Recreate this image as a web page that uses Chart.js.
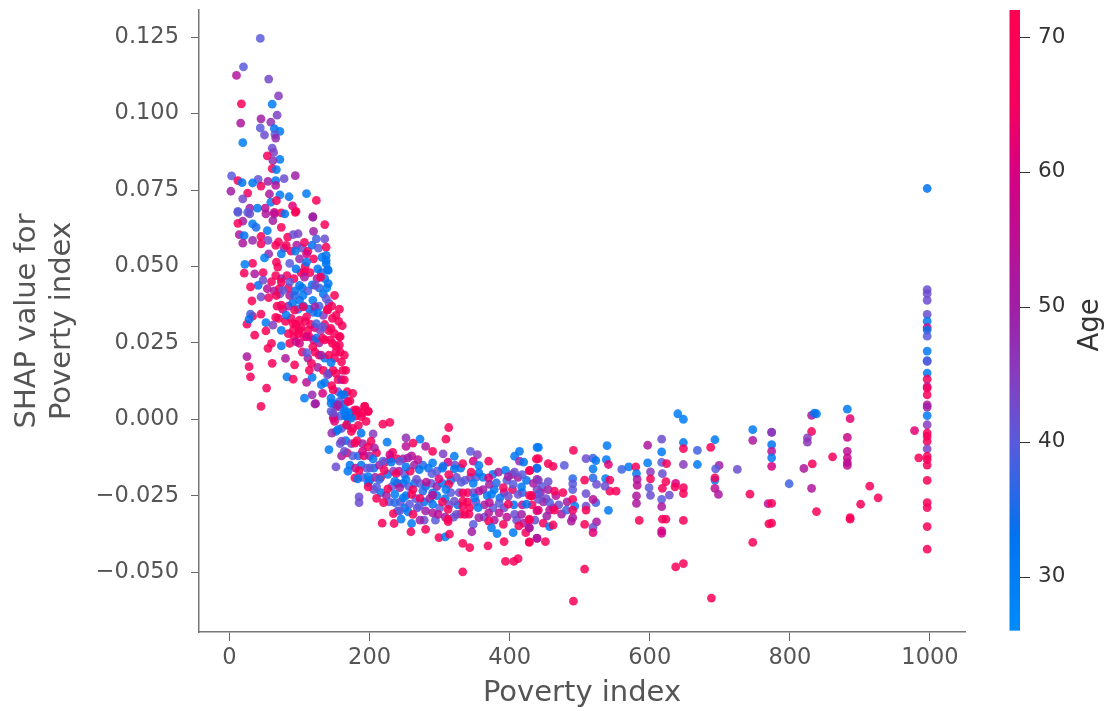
<!DOCTYPE html>
<html>
<head>
<meta charset="utf-8">
<title>SHAP dependence</title>
<script src="https://cdn.jsdelivr.net/npm/chart.js@4"></script>
<style>
html, body { margin: 0; padding: 0; background: #fff; }
#wrap { position: relative; width: 1106px; height: 711px; }
canvas { filter: blur(0.6px); }
</style>
</head>
<body>
<div id="wrap"><canvas id="chart" width="1106" height="711"></canvas></div>
<script>
// values, region by region (poverty index, shap value, age)
// the two crowded bands come first so the dots read one by one lie on top of them
var bandLeftX = [70,78,88,96,104,112,118,127,132,138,140,136,131,125,115,108,102,92,82,74,66,60,64,72,84,94,104,112,118,128,134,139,142,68,76,84,90,98,106,114,120,128,134,140,146,152,70,80,88,95,102,108,116,122,130,136,142,150,156,84,92,98,106,114,120,128,136,144,152,158,104,112,122,128,136,142,150,158,164,126,134,142,148,155,160,166,136,146,155,160,168,150,158,164,172,178,150,158,166,172,180,190];
var bandLeftY = [.058,.056,.055,.057,.056,.055,.057,.056,.053,.052,.049,.046,.048,.046,.048,.05,.048,.046,.047,.046,.047,.045,.042,.041,.043,.042,.043,.042,.044,.043,.041,.043,.038,.037,.036,.037,.038,.036,.037,.036,.035,.037,.034,.036,.037,.034,.033,.032,.033,.031,.03,.032,.031,.03,.029,.031,.029,.028,.032,.028,.027,.028,.027,.027,.026,.025,.026,.026,.024,.027,.022,.02,.022,.021,.02,.021,.02,.022,.021,.017,.016,.015,.016,.013,.013,.016,.012,.011,.009,.008,.009,.005,.004,.005,.006,.003,.001,.001,.001,.002,.001,.002];
var bandLeftAge = [68,50,68,52,42,68,33,40,32,31,32,32,36,50,66,68,68,68,68,50,68,68,52,40,66,33,33,40,31,36,32,30,42,68,62,50,33,30,31,32,36,38,45,68,68,68,68,68,68,68,68,68,66,60,45,68,68,68,68,68,66,68,68,68,55,50,68,68,68,68,68,50,68,66,33,68,68,68,68,50,68,36,68,68,50,68,33,68,40,33,68,33,42,31,68,68,48,38,33,31,68,68];

var bandLowX = [152,160,168,176,184,158,166,174,182,190,198,160,168,176,184,192,200,210,172,180,188,196,206,214,222,230,240,248,260,190,200,208,216,226,234,242,250,258,264,276,284,296,304,312,322,330,206,216,224,232,240,248,256,264,272,280,288,296,304,316,324,336,344,352,362,376,396,404,412,424,434,446,228,244,252,266,278,286,296,308,316,328,340,348,362,368,378,392,404,418,432,444,452,466,470,476,240,250,268,280,300,314,326,340,352,364,376,392,406,418,432,448,462,474,278,294,308,320,330,342,364,378,396,410,420,436,448];
var bandLowY = [-.004,-.003,-.002,-.003,-.002,-.008,-.007,-.008,-.007,-.008,-.009,-.012,-.011,-.012,-.012,-.012,-.012,-.011,-.015,-.016,-.015,-.016,-.016,-.015,-.014,-.013,-.013,-.013,-.012,-.019,-.02,-.019,-.019,-.018,-.017,-.017,-.018,-.017,-.015,-.015,-.016,-.017,-.016,-.014,-.015,-.016,-.023,-.024,-.025,-.022,-.021,-.021,-.022,-.021,-.021,-.022,-.021,-.022,-.021,-.02,-.019,-.02,-.019,-.019,-.019,-.018,-.02,-.018,-.019,-.02,-.021,-.022,-.027,-.027,-.025,-.026,-.027,-.026,-.025,-.026,-.024,-.024,-.024,-.024,-.023,-.025,-.023,-.024,-.023,-.024,-.025,-.024,-.026,-.025,-.028,-.024,-.03,-.029,-.029,-.03,-.029,-.028,-.028,-.027,-.027,-.028,-.029,-.029,-.028,-.028,-.028,-.027,-.029,-.031,-.033,-.033,-.032,-.032,-.031,-.031,-.032,-.033,-.032,-.033,-.034,-.033,-.034];
var bandLowAge = [32,42,33,66,68,40,33,44,68,50,68,52,68,40,36,68,50,68,33,55,32,40,33,52,66,50,68,52,55,40,36,50,68,31,45,52,40,68,50,36,33,40,31,60,42,33,42,33,50,40,55,33,40,31,40,33,40,50,31,33,42,40,45,40,31,33,40,45,52,33,52,40,40,42,33,40,33,50,31,33,40,42,68,42,50,31,33,50,66,36,68,52,42,55,42,68,40,33,42,50,40,42,33,68,42,52,40,42,33,55,68,50,55,52,42,40,50,40,68,68,40,52,55,42,52,42,66];

var topX = [44,20,10,56,70,17,61,68,45,59,16,44,64,72,65,50,66,19,61,63,54,72,62,61,67,3,94,12,18,41,78,55,33,66,45,66,2,26,110,124,19,57,72,85,59,67,90,29,40,51,12,26,95,64,74,119];
var topY = [.1246,.1153,.1125,.1113,.1058,.1032,.1031,.0995,.0983,.0972,.0969,.0953,.0951,.0942,.0932,.093,.092,.0905,.0887,.0873,.0862,.085,.0846,.082,.0817,.0796,.0797,.0781,.0774,.0785,.0787,.0778,.0773,.0781,.0763,.0765,.0746,.074,.0738,.0716,.0721,.0737,.0734,.0728,.071,.0715,.0698,.0691,.0691,.0691,.068,.0677,.068,.0677,.0675,.0663];
var topAge = [40,40,53,43,45,68,30,44,50,47,52,40,32,31,40,42,48,30,42,44,65,31,47,70,31,40,50,68,32,41,42,50,32,33,65,53,50,65,31,68,43,52,31,32,30,68,62,50,32,55,40,40,68,60,68,50];

var upperX = [12,19,12,33,38,29,52,64,79,94,119,136,62,74,54,14,21,19,33,45,55,45,66,83,81,98,91,107,120,124,136,138,94,74,56,50,33,22,21,67,69,86,100,110,120,110,138,138,126,141,95,36,48,41,48,30,54,32,45,56,107,107,86,74,71,100,86,76,67,122,130,141,150,138,105,119,100,93,105,122,126,157,140,81,93,74,147,33,45,30,25,28,52,66,62,36,52,74,91,100,110,100,112,91,124,133,145,161,110,124,86,60,55,74,95,100,119,133,157,147,157,110,131,152,25,80,28,61,93,117,145,160,30,82,91,110,118,114,140,152,162,131,53,148,164,107,118,123,45,133,145,164,176,152,167,193,181,198,145,157,148,169,188];
var upperY = [.0677,.0648,.0641,.0639,.0628,.0672,.0672,.0672,.0672,.0677,.0661,.0637,.065,.0628,.0617,.0604,.0601,.0576,.0585,.0598,.0585,.0574,.0569,.0596,.0569,.0607,.0604,.0579,.0615,.059,.059,.0563,.055,.0541,.0541,.0528,.051,.0507,.0478,.0514,.0498,.051,.0525,.0541,.0525,.0514,.0536,.0509,.0492,.0487,.0492,.0476,.048,.0438,.0455,.0433,.0427,.0387,.04,.0398,.0482,.0465,.0449,.0449,.0427,.0438,.0405,.0422,.0405,.0438,.0465,.0444,.0405,.0395,.0405,.0389,.0389,.0405,.0368,.0368,.0348,.036,.0357,.0341,.0357,.0373,.033,.0337,.0344,.0344,.0311,.0327,.0316,.0333,.0308,.0275,.0289,.0291,.0313,.0324,.0335,.0291,.0291,.0291,.0313,.0302,.0297,.0306,.027,.0265,.0248,.0248,.0232,.024,.0254,.0248,.0237,.0265,.027,.0248,.0243,.0218,.021,.0221,.0205,.0199,.0172,.0183,.0178,.0183,.0185,.0188,.0139,.0139,.0131,.0121,.0137,.016,.0145,.015,.016,.0113,.0102,.0096,.0129,.0069,.008,.0051,.0042,.0085,.0069,.008,.0085,.0042,.0026,.0042,.0031,.0026,.0026,.0058,.0004,.0004,.0009];
var upperAge = [40,50,68,31,35,42,52,55,32,68,50,68,50,68,31,52,32,52,48,68,42,66,68,68,68,44,42,65,50,38,42,68,31,31,48,30,68,30,68,66,68,40,48,60,68,32,33,32,32,32,32,52,68,33,42,68,55,68,42,66,68,52,40,68,68,32,52,40,68,42,68,32,68,40,31,31,33,36,66,50,32,68,68,31,68,68,68,68,68,38,66,33,31,68,45,68,68,31,68,68,68,68,68,68,38,40,68,68,60,34,68,68,68,31,58,60,68,68,68,68,66,40,50,68,52,52,66,68,68,65,32,68,66,31,68,55,31,68,44,68,68,31,66,68,68,30,48,50,68,60,32,33,68,55,31,68,66,68,40,38,62,33,68];

var elbowX = [122,145,155,169,193,183,198,195,164,148,174,150,219,229,313,309,146,155,174,167,188,205,202,225,252,272,262,280,252,290,305,142,164,190,207,179,160,233,229,321,344,354,370,407,414,439,438,414,420,152,169,185,205,219,231,243,255,269,290,305,321,333,348,356,356,179,183,198,201,221,238,252,271,289,313,345,384,394,407,429,439,370,398,418,198,214,236,252,267,281,299,313,331,348,371,381,391,405,417,439,198,210,226,243,262,276,290,309,333,356,374,386,398,412,428,439,210,220,236,236,185,185,248,260,272,290,304,321,333,350,371,385,398,424,439,257,271,290,312,333,343,355,385,407,417,428,234,243,255,262,290,298,312,324,336,356,370,218,235,245,272,260,312,348,370,391,413,428,259,280,346,374,382,405,423,299,308,314,333,343,369,392,428,439,394,406,412,333];
var elbowY = [.005,.0053,.0047,.0058,.0042,.0026,.0026,-.0007,.0026,.002,.0004,-.0007,-.0016,-.001,-.0027,-.0065,-.0045,-.0034,-.004,-.0018,-.0045,-.0048,-.0072,-.0075,-.0061,-.0065,-.0078,-.0089,-.0089,-.0105,-.0113,-.0099,-.0105,-.0105,-.0094,-.0078,-.0072,-.0108,-.0116,-.0121,-.0105,-.0116,-.0137,-.0121,-.0105,-.0092,-.013,-.0137,-.014,-.0156,-.017,-.0168,-.013,-.0137,-.014,-.0137,-.0126,-.0132,-.0143,-.0153,-.0162,-.0145,-.0137,-.0151,-.0175,-.0192,-.0195,-.0188,-.0159,-.0167,-.0178,-.0156,-.0165,-.0178,-.0181,-.0173,-.0173,-.0167,-.0173,-.0167,-.0159,-.0192,-.0188,-.0181,-.0208,-.0197,-.0203,-.0197,-.0197,-.0206,-.0195,-.0213,-.0206,-.021,-.0213,-.0208,-.0224,-.0213,-.0221,-.0197,-.0221,-.0221,-.0228,-.0224,-.023,-.0235,-.0241,-.023,-.0241,-.0235,-.0246,-.0257,-.0252,-.0246,-.0249,-.023,-.0259,-.0273,-.0246,-.0273,-.0254,-.0273,-.0257,-.0246,-.0259,-.0248,-.027,-.0268,-.0268,-.0257,-.0273,-.0275,-.0278,-.0278,-.03,-.0278,-.0284,-.0278,-.0295,-.0284,-.0289,-.0289,-.0306,-.0311,-.0311,-.0327,-.0309,-.03,-.0303,-.0311,-.0306,-.0311,-.0327,-.0311,-.0311,-.0322,-.0306,-.034,-.0341,-.0327,-.033,-.0341,-.0335,-.0344,-.0333,-.0344,-.0349,-.0355,-.0368,-.036,-.0368,-.0355,-.0374,-.0371,-.0371,-.0387,-.0385,-.0376,-.0406,-.042,-.0414,-.04,-.0403,-.039,-.0465,-.0465,-.0456,-.0499];
var elbowAge = [50,32,50,68,68,68,68,68,31,42,32,62,68,68,68,68,48,32,68,68,33,45,68,31,47,31,68,52,55,68,44,30,42,60,52,68,44,68,60,30,40,45,68,32,32,31,68,48,32,42,32,68,31,40,32,40,50,55,31,35,33,68,60,31,32,68,32,31,40,68,68,33,33,40,68,68,50,31,42,68,42,62,50,40,32,36,31,31,42,55,62,68,40,31,50,36,68,40,32,50,68,40,68,50,68,36,33,31,68,53,31,33,42,42,68,44,68,68,31,36,42,42,31,68,66,55,68,42,68,31,55,40,68,32,60,40,40,32,68,68,68,31,55,42,50,68,68,40,32,68,52,55,68,42,68,50,53,68,66,31,50,31,68,40,68,68,68,55,68,66,50,31,30,31,68,68,31,68,68,68,68,68,68,55,68,68,68,68];

var troughX = [640,648,747,774,747,617,597,648,648,693,687,668,617,539,441,491,441,455,462,439,478,509,519,523,538,541,519,560,570,580,581,597,617,624,648,668,699,694,725,601,618,601,582,537,543,519,507,490,490,455,441,428,693,693,623,637,582,618,599,648,693,636,648,698,743,601,628,617,581,581,617,769,543,552,524,536,509,490,455,464,441,441,431,482,490,523,519,457,493,509,481,509,541,441,457,464,490,453,490,428,488,507,524,585,618,623,648,770,457,462,519,519,617,617,428,439,451,428,747,507,637,648,491,688];
var troughY = [.0018,0,-.0034,-.0042,-.0069,-.0065,-.0085,-.0076,-.0096,-.0067,-.0092,-.0102,-.0107,-.0086,-.0092,-.0102,-.0129,-.0145,-.0154,-.0161,-.0151,-.0129,-.0127,-.0135,-.0132,-.0148,-.0162,-.0164,-.0156,-.0156,-.0178,-.0143,-.0141,-.0145,-.0148,-.0148,-.0151,-.0162,-.0164,-.0172,-.0178,-.0195,-.0197,-.0194,-.0199,-.0192,-.0199,-.0194,-.0211,-.0204,-.0199,-.0168,-.0199,-.0192,-.0204,-.021,-.0216,-.0226,-.0224,-.0224,-.0226,-.0221,-.0243,-.0246,-.0245,-.0249,-.0248,-.0262,-.0251,-.0275,-.0286,-.0276,-.0235,-.0235,-.0213,-.0219,-.0243,-.023,-.023,-.0235,-.0246,-.0262,-.0251,-.027,-.0262,-.0273,-.0262,-.0273,-.0284,-.0284,-.0297,-.0297,-.0298,-.0297,-.0297,-.0297,-.0297,-.0317,-.0322,-.033,-.0333,-.0344,-.0336,-.0331,-.0327,-.0327,-.0331,-.0342,-.0351,-.0346,-.0354,-.0371,-.0373,-.0365,-.0355,-.0389,-.04,-.0401,-.0403,-.049,-.0483,-.0472,-.0595,-.0585];
var troughAge = [30,30,31,47,52,42,52,31,68,31,68,38,31,31,31,68,68,68,68,32,40,42,38,32,31,62,31,38,31,68,31,30,40,68,45,31,50,40,42,45,42,68,52,31,68,36,68,36,40,42,45,68,32,68,68,60,55,66,40,66,56,66,68,52,68,42,42,40,52,52,52,55,68,68,42,42,42,40,50,68,40,42,68,52,66,38,55,40,31,42,38,68,31,62,55,68,68,50,52,68,52,68,52,68,66,68,68,68,33,68,42,62,58,60,52,53,68,68,68,68,68,68,68,68];

var rightX = [996,996,996,996,996,996,996,996,996,996,996,996,996,996,996,996,996,996,996,996,996,996,996,996,996,996,996,996,996,996,996,996,996,978,984,914,926,901,886,886,882,886,882,882,882,882,882,861,838,831,835,831,825,825,832,820,831,838,799,774,774,774,774,774,774,774];
var rightY = [.0755,.0424,.0411,.0389,.0343,.0321,.03,.0292,.0272,.0223,.0192,.0189,.0151,.0131,.0107,.0102,.008,.0047,.004,.0012,-.0018,-.0045,-.0056,-.0072,-.0097,-.0121,-.0132,-.015,-.02,-.0273,-.0289,-.0351,-.0425,-.0037,-.0126,-.0219,-.0257,-.0278,-.0322,-.0327,.0033,.0002,-.0059,-.0105,-.0126,-.0142,-.0151,-.0123,.0018,.0013,.002,-.004,-.0061,-.0075,-.0146,-.0161,-.0226,-.0302,-.0211,-.0043,-.0083,-.0105,-.0126,-.0154,-.0275,-.034];
var rightAge = [33,42,42,42,42,31,62,33,40,31,33,40,31,68,52,68,68,52,50,31,45,68,68,68,44,68,68,68,68,68,68,68,68,62,68,66,68,66,68,68,31,62,58,55,58,56,55,66,31,52,32,66,45,46,68,52,53,68,38,45,32,55,31,60,68,68];

var povertyIndex = bandLeftX.concat(bandLowX, topX, upperX, elbowX, troughX, rightX);
var shapValues = bandLeftY.concat(bandLowY, topY, upperY, elbowY, troughY, rightY);
var ageValues = bandLeftAge.concat(bandLowAge, topAge, upperAge, elbowAge, troughAge, rightAge);

var xTicks = [0, 200, 400, 600, 800, 1000];
var yTicks = [-0.05, -0.025, 0, 0.025, 0.05, 0.075, 0.1, 0.125];
var ageTicks = [30, 40, 50, 60, 70];

// colour map of the age bar
var cmapAges = [26, 33, 40, 45, 50, 60, 65, 72];
var cmapRgb = [[0,139,251],[0,115,240],[90,90,220],[135,60,190],[160,30,165],[215,0,130],[245,0,95],[255,0,81]];

function ageColor(age, alpha) {
    var i = 0;
    while (i < cmapAges.length - 2 && age > cmapAges[i + 1]) i++;
    var t = Math.min(1, Math.max(0, (age - cmapAges[i]) / (cmapAges[i + 1] - cmapAges[i])));
    var a = cmapRgb[i], b = cmapRgb[i + 1];
    return 'rgba(' + Math.round(a[0] + (b[0] - a[0]) * t) + ',' + Math.round(a[1] + (b[1] - a[1]) * t) + ',' + Math.round(a[2] + (b[2] - a[2]) * t) + ',' + alpha + ')';
}

function noPadding(s) {
    s.paddingTop = 0; s.paddingBottom = 0; s.paddingLeft = 0; s.paddingRight = 0;
}

// colour bar and its title, the Age scale only gives the tick labels
var colorBar = {
    id: 'colorBar',
    afterDraw: function (chart) {
        var c = chart.ctx, s = chart.scales.age;
        var top = s.getPixelForValue(72), bottom = s.getPixelForValue(26);
        var g = c.createLinearGradient(0, bottom, 0, top);
        cmapAges.forEach(function (a, i) {
            g.addColorStop((a - 26) / 46, ageColor(a, 1));
        });
        c.save();
        c.fillStyle = g;
        c.fillRect(1009.5, top, 10.5, bottom - top);
        c.strokeStyle = '#333';
        c.lineWidth = 1;
        ageTicks.forEach(function (a) {
            var y = Math.round(s.getPixelForValue(a)) + 0.5;
            c.beginPath(); c.moveTo(1020, y); c.lineTo(1030, y); c.stroke();
        });
        c.translate(1091, 325);
        c.rotate(-Math.PI / 2);
        c.fillStyle = '#333';
        c.font = '27.5px "DejaVu Sans"';
        c.textAlign = 'center';
        c.textBaseline = 'middle';
        c.fillText('Age', 0, 0);
        c.restore();
    }
};

new Chart(document.getElementById('chart').getContext('2d'), {
    type: 'scatter',
    data: {
        datasets: [{
            label: 'SHAP value for Poverty index',
            data: povertyIndex.map(function (x, i) { return { x: x, y: shapValues[i] }; }),
            pointRadius: 4.4,
            pointBorderWidth: 0,
            pointBackgroundColor: ageValues.map(function (a) { return ageColor(a, 0.85); })
        }]
    },
    plugins: [colorBar],
    options: {
        responsive: false,
        animation: false,
        layout: { padding: { top: 10, left: 0, right: 0, bottom: 0 } },
        plugins: { legend: { display: false }, tooltip: { enabled: false } },
        scales: {
            x: {
                type: 'linear', min: -43.5, max: 1050,
                afterBuildTicks: function (s) { s.ticks = xTicks.map(function (v) { return { value: v }; }); },
                afterFit: function (s) { s.height = 79; noPadding(s); },
                grid: { drawOnChartArea: false, tickLength: 9, tickColor: '#666' },
                border: { color: '#777', width: 1.5 },
                ticks: {
                    color: '#555', padding: 4, maxRotation: 0, font: { family: 'DejaVu Sans', size: 22.5 },
                    callback: function (v) { return String(v); }
                },
                title: { display: true, text: 'Poverty index', color: '#555', padding: { top: 0, bottom: 0 }, font: { family: 'DejaVu Sans', size: 29 } }
            },
            y: {
                type: 'linear', min: -0.0696, max: 0.1339,
                afterBuildTicks: function (s) { s.ticks = yTicks.map(function (v) { return { value: v }; }); },
                afterFit: function (s) { s.width = 199; noPadding(s); },
                grid: { drawOnChartArea: false, tickLength: 8, tickColor: '#666' },
                border: { color: '#777', width: 1.5 },
                ticks: {
                    color: '#555', padding: 12, font: { family: 'DejaVu Sans', size: 22.5 },
                    callback: function (v) { return v.toFixed(3).replace('-', '\u2212'); }
                },
                title: { display: true, text: ['SHAP value for', 'Poverty index'], color: '#555', padding: { top: 10, bottom: 0 }, font: { family: 'DejaVu Sans', size: 29, lineHeight: 1.2 } }
            },
            age: {
                type: 'linear', position: 'right', min: 25.9, max: 72,
                afterBuildTicks: function (s) { s.ticks = ageTicks.map(function (v) { return { value: v }; }); },
                afterFit: function (s) { s.width = 141; noPadding(s); },
                grid: { display: false, drawTicks: false },
                border: { display: false },
                ticks: { color: '#333', padding: 73, font: { family: 'DejaVu Sans', size: 21.5 } }
            }
        }
    }
});
</script>
</body>
</html>
